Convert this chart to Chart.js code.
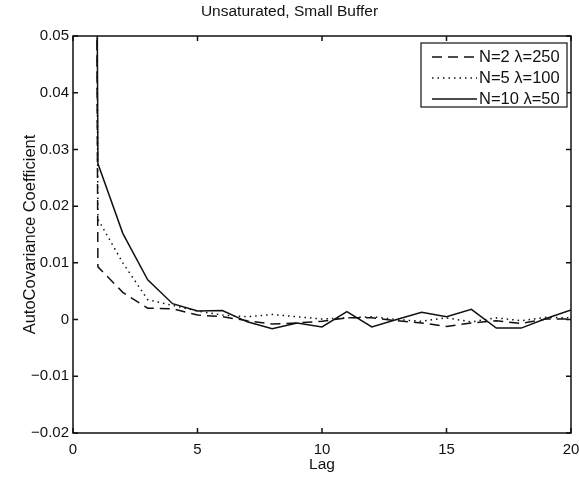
<!DOCTYPE html>
<html>
<head>
<meta charset="utf-8">
<script src="https://cdn.jsdelivr.net/npm/chart.js@4"></script>
<style>
  html, body { margin: 0; padding: 0; background: #fff; }
</style>
</head>
<body>
<canvas id="chartAcf" width="579" height="478"></canvas>
<script>
const lags = [0, 1, 2, 3, 4, 5, 6, 7, 8, 9, 10, 11, 12, 13, 14, 15, 16, 17, 18, 19, 20];
const seriesLabels = ["N=2 \u03bb=250", "N=5 \u03bb=100", "N=10 \u03bb=50"];
const acfN2 = [1, 0.0093, 0.0048, 0.0020, 0.0019, 0.0008, 0.0005, -0.0002, -0.0008, -0.0006, -0.0003, 0.0003, 0.0003, -0.0002, -0.0006, -0.0012, -0.0006, -0.0002, -0.0007, 0.0001, 0.0001];
const acfN5 = [1, 0.0177, 0.0100, 0.0035, 0.0025, 0.0015, 0.0008, 0.0005, 0.0009, 0.0005, 0.0001, 0.0003, 0.0005, 0.0000, -0.0003, 0.0003, -0.0004, 0.0003, -0.0002, 0.0004, 0.0003];
const acfN10 = [1, 0.0275, 0.0152, 0.0070, 0.0028, 0.0015, 0.0016, -0.0004, -0.0016, -0.0006, -0.0013, 0.0014, -0.0013, 0.0000, 0.0013, 0.0005, 0.0018, -0.0015, -0.0015, 0.0002, 0.0017];
const xTicks = [0, 5, 10, 15, 20];
const yTicks = [-0.02, -0.01, 0, 0.01, 0.02, 0.03, 0.04, 0.05];

const FONT = "'Liberation Sans', Arial, Helvetica, sans-serif";
const INK = "#111";

function points(values) {
  return lags.map((lag, i) => ({ x: lag, y: values[i] }));
}

function tickLabel(v) {
  if (Math.abs(v) < 1e-9) return "0";
  return (v < 0 ? "\u2212" : "") + Math.abs(v).toFixed(2);
}

// box, inward ticks on all sides and the legend, drawn the matlab way
const matlabFrame = {
  id: "matlabFrame",
  afterDraw(chart) {
    const { ctx, chartArea: a, scales: { x, y } } = chart;
    ctx.save();
    ctx.strokeStyle = INK;
    ctx.lineWidth = 1.5;
    ctx.strokeRect(a.left, a.top, a.right - a.left, a.bottom - a.top);

    ctx.beginPath();
    xTicks.forEach((v) => {
      const px = x.getPixelForValue(v);
      ctx.moveTo(px, a.bottom); ctx.lineTo(px, a.bottom - 5);
      ctx.moveTo(px, a.top); ctx.lineTo(px, a.top + 5);
    });
    yTicks.forEach((v) => {
      const py = y.getPixelForValue(v);
      ctx.moveTo(a.left, py); ctx.lineTo(a.left + 5, py);
      ctx.moveTo(a.right, py); ctx.lineTo(a.right - 5, py);
    });
    ctx.stroke();

    // legend
    const box = { left: 421, top: 43, right: 567, bottom: 107 };
    ctx.fillStyle = "#fff";
    ctx.fillRect(box.left, box.top, box.right - box.left, box.bottom - box.top);
    ctx.lineWidth = 1.2;
    ctx.strokeRect(box.left, box.top, box.right - box.left, box.bottom - box.top);

    ctx.font = "16.5px " + FONT;
    ctx.textBaseline = "middle";
    ctx.textAlign = "left";
    chart.data.datasets.forEach((ds, i) => {
      const rowY = 57 + i * 21;
      ctx.beginPath();
      ctx.setLineDash(ds.borderDash || []);
      ctx.lineWidth = ds.borderWidth;
      ctx.strokeStyle = ds.borderColor;
      ctx.moveTo(432, rowY);
      ctx.lineTo(477, rowY);
      ctx.stroke();
      ctx.setLineDash([]);
      ctx.fillStyle = INK;
      ctx.fillText(ds.label, 479, rowY);
    });
    ctx.restore();
  }
};

new Chart(document.getElementById("chartAcf"), {
  type: "line",
  plugins: [matlabFrame],
  data: {
    datasets: [
      {
        label: seriesLabels[0],
        data: points(acfN2),
        borderColor: INK,
        borderWidth: 1.5,
        borderDash: [10, 6],
        pointRadius: 0,
        tension: 0
      },
      {
        label: seriesLabels[1],
        data: points(acfN5),
        borderColor: INK,
        borderWidth: 1.5,
        borderDash: [1.5, 4],
        pointRadius: 0,
        tension: 0
      },
      {
        label: seriesLabels[2],
        data: points(acfN10),
        borderColor: INK,
        borderWidth: 1.5,
        pointRadius: 0,
        tension: 0
      }
    ]
  },
  options: {
    responsive: false,
    animation: false,
    devicePixelRatio: 1,
    layout: { padding: 0 },
    plugins: {
      legend: { display: false },
      tooltip: { enabled: false },
      title: {
        display: true,
        text: "Unsaturated, Small Buffer",
        color: INK,
        font: { family: FONT, size: 15.5, weight: "normal" },
        padding: { top: 2.7, bottom: 14.7 }
      }
    },
    scales: {
      x: {
        type: "linear",
        min: 0,
        max: 20,
        afterBuildTicks: (scale) => { scale.ticks = xTicks.map((v) => ({ value: v })); },
        afterFit: (scale) => {
          scale.height = 45;
          scale.paddingRight = 8;
          scale.paddingLeft = 0;
        },
        ticks: {
          color: INK,
          padding: 8,
          maxRotation: 0,
          font: { family: FONT, size: 15 }
        },
        grid: { display: false, drawTicks: false },
        border: { display: false },
        title: {
          display: true,
          text: "Lag",
          color: INK,
          font: { family: FONT, size: 15.5 },
          padding: { top: 0, bottom: 3.5 }
        }
      },
      y: {
        type: "linear",
        min: -0.02,
        max: 0.05,
        afterBuildTicks: (scale) => { scale.ticks = yTicks.map((v) => ({ value: v })); },
        afterFit: (scale) => { scale.width = 73; },
        ticks: {
          color: INK,
          padding: 4,
          callback: (v) => tickLabel(v),
          font: { family: FONT, size: 15 }
        },
        grid: { display: false, drawTicks: false },
        border: { display: false },
        title: {
          display: true,
          text: "AutoCovariance Coefficient",
          color: INK,
          font: { family: FONT, size: 16.5 },
          padding: { top: 20.1, bottom: 0 }
        }
      }
    }
  }
});
</script>
</body>
</html>
